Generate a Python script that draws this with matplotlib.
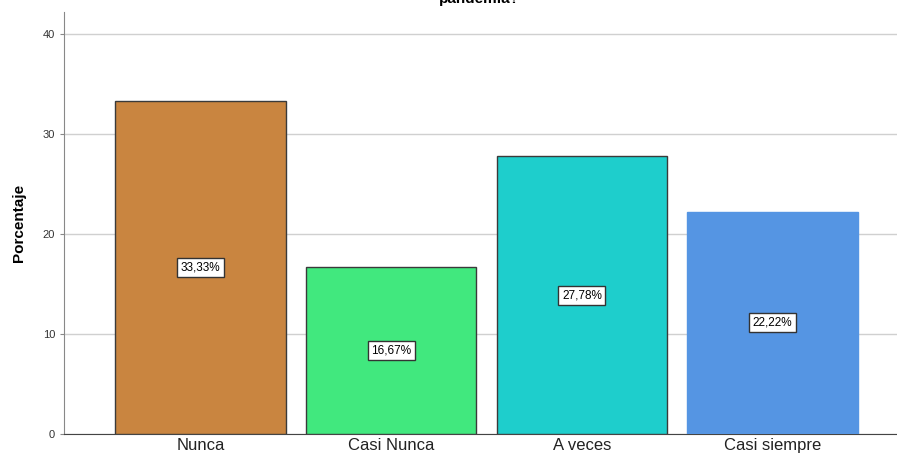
import matplotlib
matplotlib.use("Agg")
import matplotlib.pyplot as plt

categorias = ["Nunca", "Casi Nunca", "A veces", "Casi siempre"]
porcentajes = [33.33, 16.67, 27.78, 22.22]
etiquetas = ["33,33%", "16,67%", "27,78%", "22,22%"]
colores = ["#C98540", "#41E87E", "#1ECECC", "#5595E3"]
bordes = ["#3a3a3a", "#3a3a3a", "#3a3a3a", "#5595E3"]
yticks = [0, 10, 20, 30, 40]

plt.rcParams["font.family"] = ["Liberation Sans", "DejaVu Sans"]

fig = plt.figure(figsize=(8.97, 4.62), dpi=100)
ax = fig.add_axes([64 / 897, 28 / 462, 833 / 897, 422 / 462])

x = list(range(len(categorias)))
ax.bar(x, porcentajes, width=0.895, color=colores, edgecolor=bordes, linewidth=1, zorder=3)

for xi, v, txt in zip(x, porcentajes, etiquetas):
    ax.text(xi, v / 2, txt, ha="center", va="center", fontsize=8.5, zorder=4,
            bbox=dict(boxstyle="square,pad=0.3", fc="white", ec="#333333", lw=1))

ax.set_xlim(-0.715, 3.652)
ax.set_ylim(0, 42.2)
ax.set_yticks(yticks)
ax.set_xticks(x)
ax.set_xticklabels(categorias, fontsize=12, color="#222222")
ax.tick_params(axis="y", labelsize=8, length=3, color="#888888", labelcolor="#333333")
ax.tick_params(axis="x", length=0, pad=3)
ax.yaxis.grid(True, color="#d0d0d0", linewidth=1, zorder=0)
ax.set_ylabel("Porcentaje", fontsize=11, fontweight="bold", labelpad=12)

for s in ["top", "right"]:
    ax.spines[s].set_visible(False)
ax.spines["left"].set_color("#888888")
ax.spines["bottom"].set_color("#444444")

fig.text(0.534, 1.003, "pandemia?", ha="center", va="center", fontsize=11, fontweight="bold")

fig.savefig("out.png", dpi=100)
